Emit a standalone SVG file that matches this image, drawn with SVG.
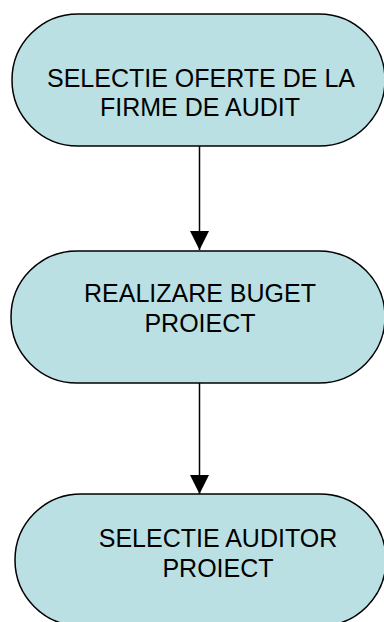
<svg xmlns="http://www.w3.org/2000/svg" width="384" height="622" viewBox="0 0 384 622">
<style>
.n{fill:#bbe0e3;stroke:#000;stroke-width:1.5}
.t{font-family:"Liberation Sans",Arial,sans-serif;font-size:25px;fill:#000;text-anchor:middle}
.c{stroke:#000;stroke-width:1.5;fill:none}
</style>
<defs>
<marker id="a" markerUnits="userSpaceOnUse" markerWidth="20" markerHeight="20" viewBox="0 0 20 20" refX="19" refY="10" orient="auto">
<path d="M0,0.5 L19,10 L0,19.5 Z" fill="#000"/>
</marker>
</defs>
<rect width="384" height="622" fill="#fff"/>
<g id="connectors">
<line class="c" x1="199.5" y1="146" x2="199.5" y2="250" marker-end="url(#a)"/>
<line class="c" x1="199.5" y1="383" x2="199.5" y2="494" marker-end="url(#a)"/>
</g>
<g id="node1">
<rect class="n" x="12" y="14" width="373" height="132" rx="66" ry="66"/>
<text class="t" x="201" y="87">SELECTIE OFERTE DE LA</text>
<text class="t" x="200" y="116">FIRME DE AUDIT</text>
</g>
<g id="node2">
<rect class="n" x="11" y="251" width="374" height="132" rx="66" ry="66"/>
<text class="t" x="200" y="301.5">REALIZARE BUGET</text>
<text class="t" x="200" y="331.5">PROIECT</text>
</g>
<g id="node3">
<rect class="n" x="15" y="494" width="371" height="132" rx="66" ry="66"/>
<text class="t" x="218" y="547">SELECTIE AUDITOR</text>
<text class="t" x="218" y="577">PROIECT</text>
</g>
</svg>
